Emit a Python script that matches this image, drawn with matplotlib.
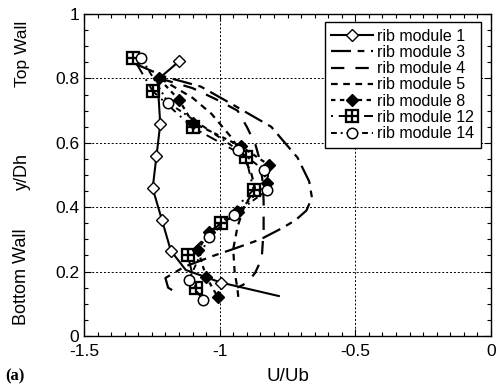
import numpy as np
import matplotlib.pyplot as plt
from matplotlib.ticker import MultipleLocator

plt.rcParams['font.family'] = ['Liberation Sans', 'DejaVu Sans']

# rib module 1 (solid, open diamonds)
m1_x = [-1.15, -1.229, -1.219, -1.233, -1.247, -1.213, -1.18, -1.125, -0.996, -0.782]
m1_y = [0.853, 0.796, 0.658, 0.558, 0.459, 0.361, 0.265, 0.205, 0.166, 0.124]
m1_mark = [0, 2, 3, 4, 5, 6, 8]

# rib module 3 (outer curve)
m3_x = [-1.31, -1.2, -1.07, -0.95, -0.81, -0.713, -0.67, -0.66, -0.68, -0.72,
        -0.77, -0.85, -0.95, -1.02, -1.13, -1.2, -1.19, -1.16]
m3_y = [0.845, 0.805, 0.775, 0.718, 0.65, 0.554, 0.48, 0.43, 0.39, 0.36,
        0.335, 0.30, 0.27, 0.25, 0.215, 0.18, 0.15, 0.135]

# rib module 4
m4_x = [-1.22, -1.1, -1.0, -0.934, -0.9, -0.868, -0.85, -0.842, -0.838, -0.838, -0.845, -0.87, -0.9, -0.935]
m4_y = [0.80, 0.77, 0.73, 0.70, 0.65, 0.594, 0.54, 0.48, 0.42, 0.33, 0.24, 0.195, 0.165, 0.15]

# rib module 5
m5_x = [-1.22, -1.1, -1.03, -0.96, -0.92, -0.885, -0.87, -0.89, -0.91, -0.934, -0.95, -0.945, -0.935, -0.93]
m5_y = [0.80, 0.74, 0.69, 0.62, 0.57, 0.51, 0.46, 0.43, 0.40, 0.34, 0.27, 0.20, 0.15, 0.11]

# rib module 8 (filled diamonds)
m8_x = [-1.224, -1.15, -1.10, -0.923, -0.82, -0.824, -0.934, -1.04, -1.08, -1.05, -1.007]
m8_y = [0.80, 0.734, 0.663, 0.59, 0.532, 0.476, 0.386, 0.323, 0.267, 0.184, 0.121]

# rib module 12 (crossed squares)
m12_x = [-1.32, -1.246, -1.10, -0.904, -0.875, -0.996, -1.118, -1.088]
m12_y = [0.865, 0.76, 0.648, 0.557, 0.454, 0.351, 0.252, 0.149]

# rib module 14 (open circles)
m14_x = [-1.29, -1.19, -0.934, -0.838, -0.824, -0.948, -1.04, -1.114, -1.062]
m14_y = [0.865, 0.725, 0.579, 0.516, 0.454, 0.376, 0.308, 0.174, 0.112]

fig = plt.figure(figsize=(5, 3.92), dpi=100)
ax = fig.add_axes([0.168, 0.143, 0.814, 0.821])

ax.plot(m1_x, m1_y, '-', color='k', lw=1.5, marker='D', ms=6.5, mfc='white', mec='k', mew=1.0,
        markevery=m1_mark, label='rib module 1')
ax.plot(m3_x, m3_y, color='k', lw=1.6, linestyle=(0, (9, 3, 3, 3)), label='rib module 3')
ax.plot(m4_x, m4_y, color='k', lw=1.6, linestyle=(0, (6, 5)), label='rib module 4')
ax.plot(m5_x, m5_y, color='k', lw=1.6, linestyle=(0, (3, 2.5)), label='rib module 5')
ax.plot(m8_x, m8_y, color='k', lw=1.6, linestyle=(0, (2, 2)), marker='D', ms=6,
        mfc='k', mec='k', label='rib module 8')
ax.plot(m12_x, m12_y, color='k', lw=1.4, linestyle=(0, (1, 3, 6, 3)), marker='$\\boxplus$', ms=10,
        mfc='k', mec='k', mew=0.2, label='rib module 12')
ax.plot(m14_x, m14_y, color='k', lw=1.4, linestyle=(0, (3, 2, 1, 2)), marker='o', ms=7.5,
        mfc='white', mec='k', mew=1.1, label='rib module 14')

ax.set_xlim(-1.5, 0)
ax.set_ylim(0, 1)
ax.set_xticks([-1.5, -1, -0.5, 0])
ax.set_xticklabels(['-1.5', '-1', '-0.5', '0'])
ax.set_yticks([0, 0.2, 0.4, 0.6, 0.8, 1])
ax.set_yticklabels(['0', '0.2', '0.4', '0.6', '0.8', '1'])
ax.xaxis.set_minor_locator(MultipleLocator(0.05))
ax.yaxis.set_minor_locator(MultipleLocator(0.05))
ax.tick_params(which='both', direction='in', top=True, right=True, labelsize=12.5, width=0.8)
ax.tick_params(which='major', length=5)
ax.tick_params(which='minor', length=3)
ax.tick_params(axis='x', pad=6)
ax.grid(True, which='major', color='k', linestyle=(0, (2, 2)), lw=0.7)
for s in ax.spines.values():
    s.set_linewidth(1.0)

ax.set_xlabel('U/Ub', fontsize=13.5, labelpad=6)
fig.text(0.044, 0.562, 'y/Dh', rotation=90, fontsize=13, ha='center', va='center')
fig.text(0.044, 0.862, 'Top Wall', rotation=90, fontsize=12.5, ha='center', va='center')
fig.text(0.044, 0.295, 'Bottom Wall', rotation=90, fontsize=13, ha='center', va='center')
fig.text(0.01, 0.03, '(a)', fontsize=12, fontweight='bold', family='Liberation Serif')

leg = ax.legend(loc='upper right', bbox_to_anchor=(0.975, 0.975), fontsize=11.5, frameon=True,
                fancybox=False, edgecolor='k', framealpha=1, handlelength=2.6,
                handletextpad=0.3, labelspacing=0.08, borderpad=0.4, borderaxespad=0)
leg.get_frame().set_linewidth(1.0)

fig.savefig('out.png', dpi=100)
